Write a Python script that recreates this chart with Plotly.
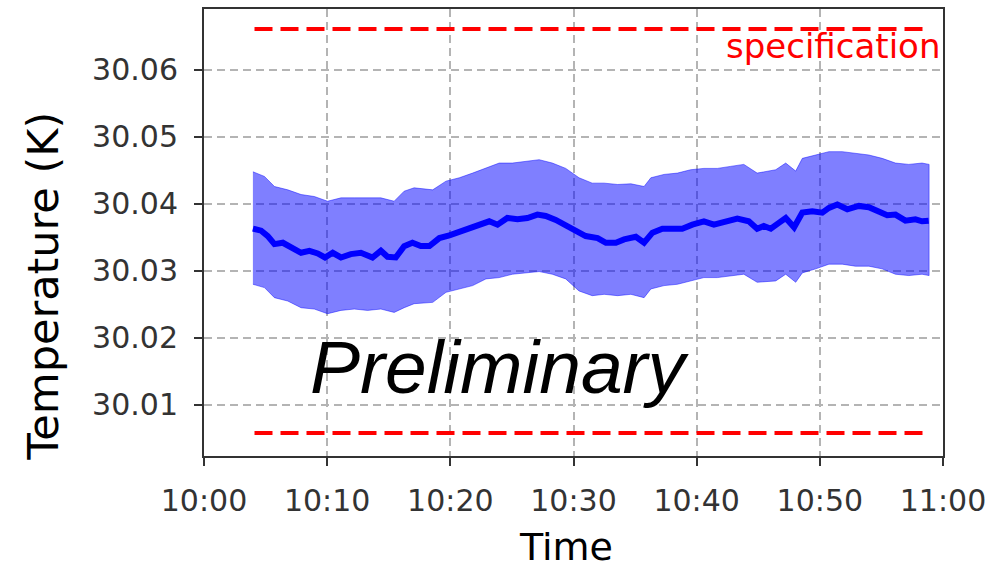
import datetime as dt
import plotly.graph_objects as go

# ---- data (minutes after 10:00, temperature in K) ----
mean_min = [3.97, 4.64, 5.18, 5.72, 6.40, 7.07, 7.88, 8.56, 9.23, 9.82, 10.45, 11.12, 11.92, 12.74,
            13.68, 14.36, 14.90, 15.57, 16.25, 16.92, 17.60, 18.30, 19.11, 19.92, 20.73, 21.54,
            22.35, 23.16, 23.83, 24.63, 25.45, 26.26, 27.07, 27.75, 28.56, 29.37, 30.18, 30.99,
            31.96, 32.63, 33.44, 34.11, 35.06, 35.73, 36.41, 37.22, 38.03, 38.83, 39.65, 40.59,
            41.40, 42.21, 43.30, 44.23, 44.91, 45.45, 46.02, 46.70, 47.23, 47.91, 48.58, 49.39,
            50.20, 50.74, 51.42, 52.23, 53.17, 53.98, 54.79, 55.47, 56.14, 56.95, 57.76, 58.30, 58.84]
mean_val = [30.0363, 30.0360, 30.0352, 30.0340, 30.0342, 30.0335, 30.0327, 30.0330, 30.0326, 30.0320,
            30.0327, 30.0320, 30.0325, 30.0327, 30.0320, 30.0330, 30.0321, 30.0320, 30.0337, 30.0342,
            30.0337, 30.0337, 30.0349, 30.0353, 30.0358, 30.0364, 30.0368, 30.0374, 30.0369, 30.0379,
            30.0377, 30.0379, 30.0384, 30.0382, 30.0376, 30.0368, 30.0359, 30.0352, 30.0349, 30.0342,
            30.0342, 30.0347, 30.0351, 30.0342, 30.0357, 30.0363, 30.0363, 30.0363, 30.0369, 30.0374,
            30.0369, 30.0373, 30.0378, 30.0374, 30.0363, 30.0367, 30.0363, 30.0372, 30.0379, 30.0365,
            30.0387, 30.0389, 30.0387, 30.0394, 30.0399, 30.0392, 30.0397, 30.0395, 30.0389, 30.0383,
            30.0384, 30.0375, 30.0377, 30.0374, 30.0375]

band_min = [3.97, 4.91, 5.72, 6.80, 7.88, 8.96, 10.03, 11.12, 12.20, 13.28, 14.36, 15.44, 16.25, 17.06,
            18.57, 19.65, 20.73, 21.81, 22.89, 23.97, 25.04, 26.13, 27.21, 28.28, 29.37, 30.45, 31.52,
            32.49, 33.58, 34.66, 35.73, 36.28, 37.35, 38.44, 39.51, 40.59, 41.68, 42.75, 43.83, 44.91,
            46.42, 47.23, 48.04, 48.58, 49.66, 50.74, 51.82, 52.89, 53.98, 55.06, 56.14, 57.22, 58.30, 58.87]
band_upper = [30.0448, 30.0441, 30.0426, 30.0421, 30.0414, 30.0411, 30.0404, 30.0409, 30.0409, 30.0409,
              30.0409, 30.0404, 30.0419, 30.0424, 30.0421, 30.0434, 30.0439, 30.0446, 30.0453, 30.0461,
              30.0461, 30.0463, 30.0466, 30.0461, 30.0453, 30.0439, 30.0431, 30.0431, 30.0429, 30.0430,
              30.0426, 30.0439, 30.0444, 30.0446, 30.0451, 30.0453, 30.0453, 30.0456, 30.0459, 30.0446,
              30.0451, 30.0461, 30.0449, 30.0468, 30.0473, 30.0478, 30.0478, 30.0476, 30.0473, 30.0468,
              30.0461, 30.0459, 30.0461, 30.0459]
band_lower = [30.0280, 30.0275, 30.0260, 30.0255, 30.0245, 30.0243, 30.0236, 30.0241, 30.0243, 30.0241,
              30.0243, 30.0238, 30.0245, 30.0251, 30.0253, 30.0268, 30.0273, 30.0278, 30.0288, 30.0290,
              30.0295, 30.0297, 30.0299, 30.0295, 30.0288, 30.0270, 30.0263, 30.0265, 30.0263, 30.0265,
              30.0260, 30.0273, 30.0278, 30.0280, 30.0285, 30.0290, 30.0290, 30.0293, 30.0295, 30.0283,
              30.0285, 30.0295, 30.0283, 30.0297, 30.0303, 30.0310, 30.0310, 30.0307, 30.0307, 30.0303,
              30.0295, 30.0293, 30.0295, 30.0293]

spec_min = [4.1, 58.9]
spec_upper = 30.0661
spec_lower = 30.0058

y_ticks = [30.01, 30.02, 30.03, 30.04, 30.05, 30.06]
y_range = [30.00236, 30.0691]

BASE = dt.datetime(2000, 1, 1, 10, 0, 0)


def t(m):
    return BASE + dt.timedelta(minutes=m)


mean_t = [t(m) for m in mean_min]
band_t = [t(m) for m in band_min]
spec_t = [t(m) for m in spec_min]

fig = go.Figure()

# uncertainty band (polygon)
fig.add_trace(go.Scatter(
    x=band_t + band_t[::-1],
    y=band_upper + band_lower[::-1],
    fill="toself", fillcolor="rgba(0,0,255,0.5)",
    line=dict(color="rgba(0,0,255,0.45)", width=1),
    mode="lines", hoverinfo="skip", showlegend=False))

# mean line
fig.add_trace(go.Scatter(
    x=mean_t, y=mean_val, mode="lines",
    line=dict(color="#0000ff", width=6), showlegend=False))

# specification lines
for sv in (spec_upper, spec_lower):
    fig.add_trace(go.Scatter(
        x=spec_t, y=[sv, sv], mode="lines",
        line=dict(color="#ff0000", width=4, dash="18px,8px"), showlegend=False))

axis_common = dict(
    showline=True, linecolor="#333333", linewidth=2, mirror=True,
    ticks="outside", ticklen=8, tickwidth=2, tickcolor="#333333",
    showgrid=True, gridcolor="#b4b4b4", gridwidth=2, griddash="8px,5px",
    zeroline=False, tickfont=dict(family="DejaVu Sans", size=30, color="#333333"),
)

fig.update_xaxes(
    type="date", range=[t(0), t(60)], tickformat="%H:%M",
    tick0=t(0), dtick=600000, ticklabelstandoff=9, **axis_common)
fig.update_yaxes(
    range=y_range, tickvals=y_ticks, ticktext=[f"{v:.2f}" for v in y_ticks],
    ticklabelstandoff=10, **axis_common)

fig.update_layout(
    width=993, height=573,
    margin=dict(l=204, r=49, t=7, b=117),
    plot_bgcolor="white", paper_bgcolor="white",
    font=dict(family="DejaVu Sans"),
    annotations=[
        dict(text="Temperature (K)", xref="paper", yref="paper", x=-0.218, y=0.381,
             textangle=-90, showarrow=False, font=dict(size=43, color="black"),
             xanchor="center", yanchor="middle"),
        dict(text="Time", xref="paper", yref="paper", x=0.4905, y=-0.2027,
             showarrow=False, font=dict(size=38, color="black"),
             xanchor="center", yanchor="middle"),
        dict(text="specification", xref="paper", yref="paper", x=1.0, y=0.9176,
             showarrow=False, font=dict(size=34, color="#ff0000"),
             xanchor="right", yanchor="middle", xshift=-1),
        dict(text="<i>Preliminary</i>", xref="paper", yref="paper", x=0.4007, y=0.200,
             showarrow=False, font=dict(family="Liberation Sans", size=75, color="black"),
             xanchor="center", yanchor="middle"),
    ],
)

fig.write_html("out.html", config={"displayModeBar": False})

# remove the default page margin so the figure sits at the window's top-left corner
with open("out.html", "r", encoding="utf-8") as fh:
    html = fh.read()
html = html.replace("<head>", "<head><style>html,body{margin:0;padding:0;}</style>", 1)
with open("out.html", "w", encoding="utf-8") as fh:
    fh.write(html)
